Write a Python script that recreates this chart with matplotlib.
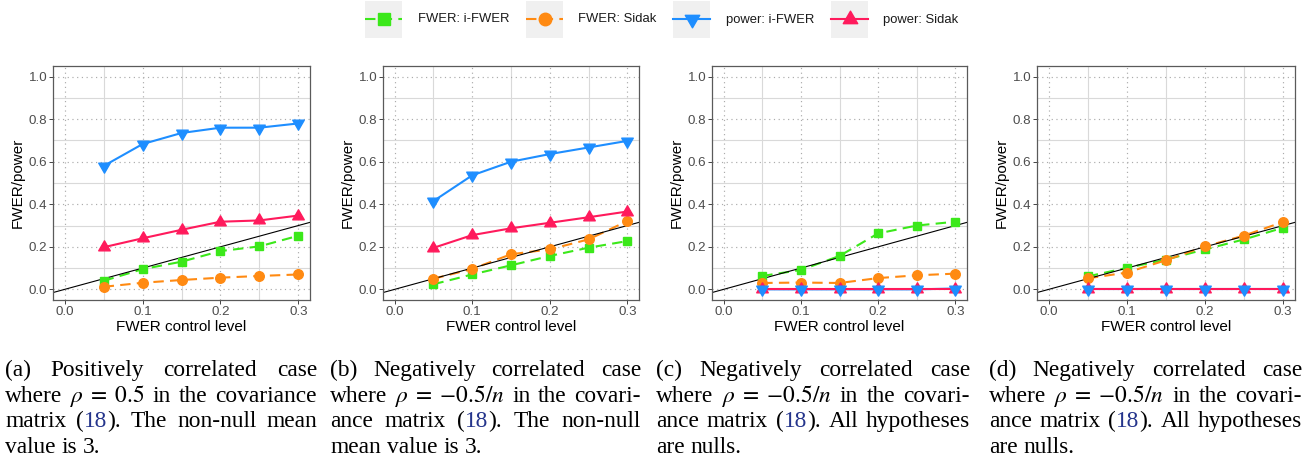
import matplotlib
matplotlib.use("Agg")
import matplotlib.pyplot as plt
from matplotlib.ticker import MultipleLocator, FormatStrFormatter
from matplotlib.patches import Rectangle
from matplotlib.path import Path

plt.rcParams['font.family'] = ['Liberation Sans', 'DejaVu Sans']
plt.rcParams['mathtext.fontset'] = 'stix'

W, H = 1306, 461

# ---- data ----
levels = [0.05, 0.10, 0.15, 0.20, 0.25, 0.30]

a_fwer_ifwer = [0.040, 0.095, 0.130, 0.180, 0.202, 0.252]
a_fwer_sidak = [0.012, 0.031, 0.044, 0.055, 0.063, 0.070]
a_power_ifwer = [0.580, 0.683, 0.735, 0.760, 0.760, 0.780]
a_power_sidak = [0.198, 0.240, 0.280, 0.318, 0.324, 0.347]

b_fwer_ifwer = [0.024, 0.070, 0.113, 0.157, 0.196, 0.227]
b_fwer_sidak = [0.050, 0.096, 0.165, 0.188, 0.235, 0.321]
b_power_ifwer = [0.415, 0.536, 0.600, 0.636, 0.667, 0.698]
b_power_sidak = [0.195, 0.255, 0.287, 0.313, 0.339, 0.366]

c_fwer_ifwer = [0.063, 0.091, 0.157, 0.263, 0.300, 0.318]
c_fwer_sidak = [0.030, 0.032, 0.030, 0.053, 0.066, 0.074]
c_power_ifwer = [0.0, 0.0, 0.0, 0.0, 0.0, 0.004]
c_power_sidak = [0.0, 0.0, 0.0, 0.0, 0.0, 0.0]

d_fwer_ifwer = [0.061, 0.101, 0.140, 0.188, 0.235, 0.290]
d_fwer_sidak = [0.052, 0.079, 0.137, 0.202, 0.253, 0.317]
d_power_ifwer = [0.0, 0.0, 0.0, 0.0, 0.0, 0.0]
d_power_sidak = [0.0, 0.0, 0.0, 0.0, 0.0, 0.0]

series_names = ["FWER: i-FWER", "FWER: Sidak", "power: i-FWER", "power: Sidak"]
panels = [
    [a_fwer_ifwer, a_fwer_sidak, a_power_ifwer, a_power_sidak],
    [b_fwer_ifwer, b_fwer_sidak, b_power_ifwer, b_power_sidak],
    [c_fwer_ifwer, c_fwer_sidak, c_power_ifwer, c_power_sidak],
    [d_fwer_ifwer, d_fwer_sidak, d_power_ifwer, d_power_sidak],
]

captions = [
    ["(a) Positively correlated case", r"where $\rho\;=\;0.5$ in the covariance",
     "matrix (#18#). The non-null mean", "value is 3."],
    ["(b) Negatively correlated case", r"where $\rho\;=\;{-}0.5/n$ in the covari-",
     "ance matrix (#18#). The non-null", "mean value is 3."],
    ["(c) Negatively correlated case", r"where $\rho\;=\;{-}0.5/n$ in the covari-",
     "ance matrix (#18#). All hypotheses", "are nulls."],
    ["(d) Negatively correlated case", r"where $\rho\;=\;{-}0.5/n$ in the covari-",
     "ance matrix (#18#). All hypotheses", "are nulls."],
]

# ---- styles ----
colors = ['#3BE81A', '#FF8A12', '#1E8EFF', '#FF1A5C']
styles = [(0, (5, 3)), (0, (5, 3)), '-', '-']

tri_up = Path([(-1, -0.577), (1, -0.577), (0, 1.155), (-1, -0.577)],
              [Path.MOVETO, Path.LINETO, Path.LINETO, Path.CLOSEPOLY])
tri_down = Path([(-1, 0.577), (1, 0.577), (0, -1.155), (-1, 0.577)],
                [Path.MOVETO, Path.LINETO, Path.LINETO, Path.CLOSEPOLY])
markers = ['s', 'o', tri_down, tri_up]
msizes = [6.4, 6.9, 9.6, 9.6]
leg_msizes = [8.5, 9.0, 12.0, 12.0]

panel_left = [53, 383, 712, 1037]
panel_right = [310, 639, 967, 1295]
panel_top, panel_bottom = 66, 300

cap_left = [5, 330, 656, 989]
cap_right = [317, 641, 970, 1302]
cap_base = 376
cap_step = 25.6
cap_fs = 16.8
cite_color = '#25358C'

fig = plt.figure(figsize=(W / 100, H / 100), dpi=100)

for k, vals in enumerate(panels):
    l, r = panel_left[k], panel_right[k]
    ax = fig.add_axes([l / W, 1 - panel_bottom / H, (r - l) / W, (panel_bottom - panel_top) / H])
    ax.set_xlim(-0.015, 0.315)
    ax.set_ylim(-0.05, 1.05)
    ax.xaxis.set_major_locator(MultipleLocator(0.1))
    ax.xaxis.set_minor_locator(MultipleLocator(0.05))
    ax.yaxis.set_major_locator(MultipleLocator(0.2))
    ax.yaxis.set_minor_locator(MultipleLocator(0.1))
    ax.xaxis.set_major_formatter(FormatStrFormatter('%.1f'))
    ax.yaxis.set_major_formatter(FormatStrFormatter('%.1f'))
    ax.grid(which='major', linestyle=(0, (1, 3)), color='#ABABAB', lw=0.85)
    ax.grid(which='minor', linestyle='-', color='#D9D9D9', lw=0.8)
    ax.set_axisbelow(True)
    ax.tick_params(which='major', length=2.6, width=0.7, color='#444444',
                   labelsize=9.6, labelcolor='#4D4D4D', pad=1.6)
    ax.tick_params(which='minor', length=0)
    for s in ax.spines.values():
        s.set_color('#5A5A5A')
        s.set_linewidth(0.9)

    for i in range(4):
        ax.plot(levels, vals[i], color=colors[i], linestyle=styles[i], lw=1.5, zorder=2)
    ax.axline((0, 0), slope=1, color='black', lw=0.8, zorder=2.5)
    for i in [0, 1, 3, 2]:
        ax.plot(levels, vals[i], linestyle='none', marker=markers[i], ms=msizes[i],
                color=colors[i], mec=colors[i], zorder=3)

    ax.set_xlabel("FWER control level", fontsize=11, labelpad=1.5)
    ax.set_ylabel("FWER/power", fontsize=11, labelpad=2.5)

# ---- legend drawn in pixel coordinates on an overlay axes ----
lax = fig.add_axes([0, 0, 1, 1], zorder=-1)
lax.set_xlim(0, W)
lax.set_ylim(H, 0)
lax.axis('off')
key_left = [365, 526, 673, 831]
text_left = [418, 578, 726, 883]
key_size = 37
for i in range(4):
    x0 = key_left[i]
    lax.add_patch(Rectangle((x0, 1), key_size, key_size, facecolor='#F0F0F0', edgecolor='none'))
    lax.plot([x0, x0 + key_size], [19.5, 19.5], color=colors[i], linestyle=styles[i], lw=1.5)
    lax.plot([x0 + key_size / 2], [19.5], marker=markers[i], ms=leg_msizes[i],
             color=colors[i], mec=colors[i], linestyle='none')
    lax.text(text_left[i], 19.5, series_names[i], fontsize=9.4, va='center', ha='left', color='#1A1A1A')

# ---- justified captions ----
renderer = fig.canvas.get_renderer()


def measure(s):
    t = fig.text(0, 0, s, fontsize=cap_fs, family='Liberation Serif')
    w = t.get_window_extent(renderer).width
    t.remove()
    return w


space_w = measure("x x") - measure("xx")

for k, lines in enumerate(captions):
    x_left, x_right = cap_left[k], cap_right[k]
    for j, line in enumerate(lines):
        words = []
        for word in line.split(' '):
            parts = word.split('#')
            segs = [(p, cite_color if n % 2 else 'black') for n, p in enumerate(parts) if p]
            words.append([(p, c, measure(p)) for p, c in segs])
        widths = [sum(s[2] for s in w) for w in words]
        if j < len(lines) - 1 and len(words) > 1:
            gap = (x_right - x_left - sum(widths)) / (len(words) - 1)
        else:
            gap = space_w
        x = x_left
        y = 1 - (cap_base + j * cap_step) / H
        for w, wd in zip(words, widths):
            xx = x
            for p, c, pw in w:
                fig.text(xx / W, y, p, fontsize=cap_fs, family='Liberation Serif',
                         color=c, va='baseline', ha='left')
                xx += pw
            x += wd + gap

fig.savefig("out.png", dpi=100)
